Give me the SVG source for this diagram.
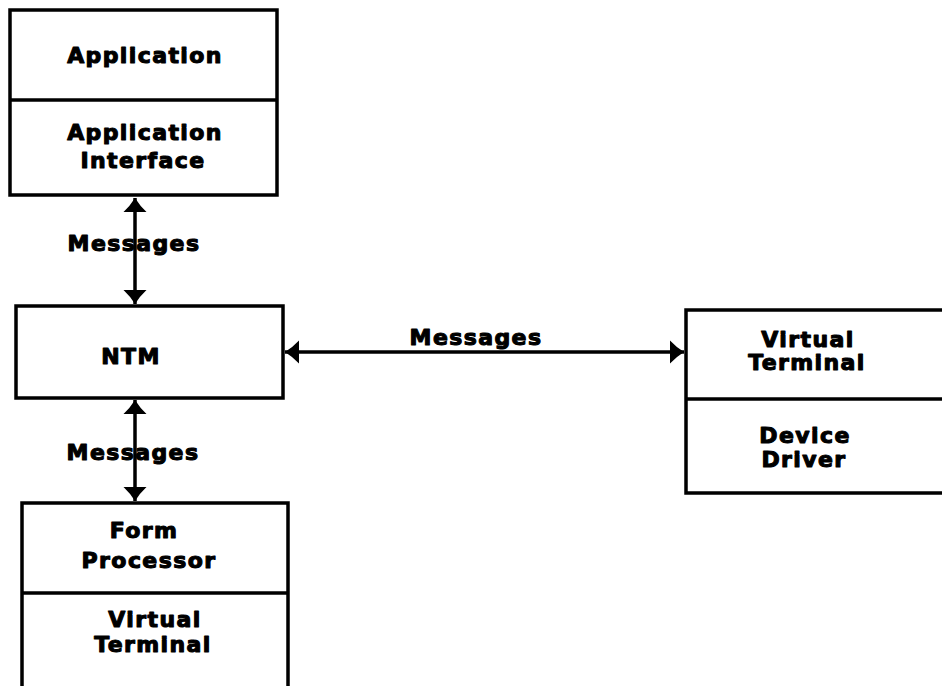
<svg xmlns="http://www.w3.org/2000/svg" width="942" height="686" viewBox="0 0 942 686">
  <style>
    .box { fill: #ffffff; stroke: #000000; stroke-width: 3.5; }
    .div { stroke: #000000; stroke-width: 3.5; fill: none; }
    .conn { stroke: #000000; stroke-width: 3.5; fill: none; }
    text { font-family: "DejaVu Sans", "Liberation Sans", sans-serif; font-weight: bold; font-size: 22px; letter-spacing: 1.4px; fill: #000000; stroke: #000000; stroke-width: 1.1; stroke-linejoin: round; text-anchor: middle; }
  </style>
  <defs>
    <marker id="head" markerUnits="userSpaceOnUse" markerWidth="15" markerHeight="26" viewBox="0 -13 15 26" refX="14" refY="0" orient="auto-start-reverse">
      <path d="M0,-11.5 Q6,-5 14,0 Q6,5 0,11.5 Z" fill="#000000"/>
    </marker>
  </defs>
  <rect width="942" height="686" fill="#ffffff"/>

  <!-- Application / Application Interface -->
  <g id="application">
    <rect class="box" x="10" y="10" width="267" height="185"/>
    <line class="div" x1="10" y1="100" x2="277" y2="100"/>
    <text x="145" y="63">Application</text>
    <text x="145" y="140">Application</text>
    <text x="143" y="168">Interface</text>
  </g>

  <!-- NTM -->
  <g id="ntm">
    <rect class="box" x="16" y="306" width="267" height="92"/>
    <text x="131" y="364">NTM</text>
  </g>

  <!-- Form Processor / Virtual Terminal (runs off the bottom edge) -->
  <g id="form-processor">
    <path class="div" d="M22,700 V503 H288 V700"/>
    <line class="div" x1="22" y1="593" x2="288" y2="593"/>
    <text x="144" y="538">Form</text>
    <text x="149" y="568">Processor</text>
    <text x="155" y="627">Virtual</text>
    <text x="153" y="652">Terminal</text>
  </g>

  <!-- Virtual Terminal / Device Driver (runs off the right edge) -->
  <g id="virtual-terminal">
    <path class="div" d="M960,310 H686 V493 H960"/>
    <line class="div" x1="686" y1="399" x2="960" y2="399"/>
    <text x="808" y="347">Virtual</text>
    <text x="807" y="370">Terminal</text>
    <text x="805" y="443">Device</text>
    <text x="804" y="467">Driver</text>
  </g>

  <!-- Connectors -->
  <g id="connectors">
    <line class="conn" x1="135" y1="198" x2="135" y2="304" marker-start="url(#head)" marker-end="url(#head)"/>
    <line class="conn" x1="135" y1="400" x2="135" y2="501" marker-start="url(#head)" marker-end="url(#head)"/>
    <line class="conn" x1="285" y1="352" x2="684" y2="352" marker-start="url(#head)" marker-end="url(#head)"/>
    <text x="134" y="251">Messages</text>
    <text x="133" y="460">Messages</text>
    <text x="476" y="345">Messages</text>
  </g>
</svg>
